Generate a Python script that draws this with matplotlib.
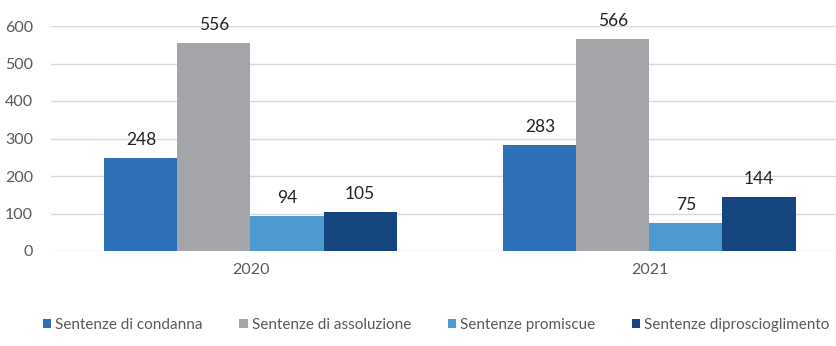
import numpy as np
import matplotlib.pyplot as plt

years = ['2020', '2021']
series_names = ['Sentenze di condanna', 'Sentenze di assoluzione',
                'Sentenze promiscue', 'Sentenze diproscioglimento']
condanna = [248, 283]
assoluzione = [556, 566]
promiscue = [94, 75]
proscioglimento = [105, 144]

colors = ['#2E70B8', '#A3A5A8', '#4D9AD2', '#154680']

plt.rcParams['font.family'] = ['Lato', 'DejaVu Sans']

fig = plt.figure(figsize=(8.37, 3.46), dpi=100)
ax = fig.add_axes([51 / 837, 1 - 251 / 346, 1 - 51 / 837, 225 / 346])

x = np.arange(len(years))
width = 0.183
all_series = [condanna, assoluzione, promiscue, proscioglimento]
for i, (vals, name, c) in enumerate(zip(all_series, series_names, colors)):
    offs = (i - 1.5) * width
    bars = ax.bar(x + offs, vals, width, color=c, label=name, zorder=3)
    for b, v in zip(bars, vals):
        ax.annotate(str(v), (b.get_x() + b.get_width() / 2, v),
                    xytext=(0, 7), textcoords='offset points',
                    ha='center', va='bottom', fontsize=12.5,
                    color='#222222', annotation_clip=False)

ax.set_xlim(-0.5, 1.47)
ax.set_ylim(0, 600)
ax.set_yticks(range(0, 601, 100))
ax.set_xticks(x)
ax.set_xticklabels(years)
ax.tick_params(axis='both', length=0, labelsize=11.5, colors='#595959')
ax.tick_params(axis='x', pad=9)
ax.tick_params(axis='y', pad=13)
ax.grid(axis='y', color='#D9D9D9', linewidth=1, zorder=0)
for s in ax.spines.values():
    s.set_visible(False)

fig.legend(loc='lower center', bbox_to_anchor=(0.521, 0.0), ncol=4,
           frameon=False, fontsize=11, handlelength=0.55, handleheight=0.55,
           handletextpad=0.25, columnspacing=2.4, labelcolor='#595959')

fig.savefig('out.png', dpi=100)
